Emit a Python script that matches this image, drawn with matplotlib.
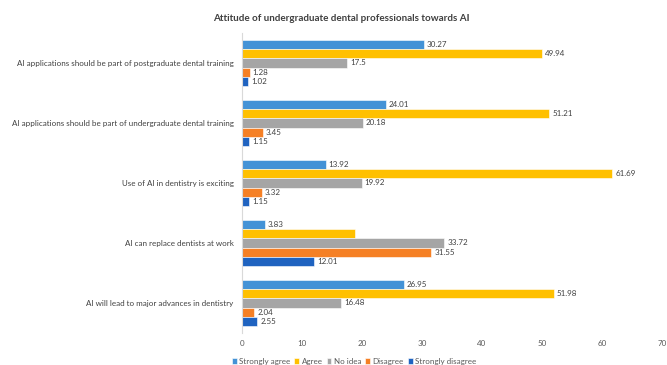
import matplotlib.pyplot as plt
import numpy as np

# encuesta: actitud de estudiantes de odontología frente a la IA (%)
afirmaciones = [
    "AI applications should be part of postgraduate dental training",
    "AI applications should be part of undergraduate dental training",
    "Use of AI in dentistry is exciting",
    "AI can replace dentists at work",
    "AI will lead to major advances in dentistry",
]
respuestas = ["Strongly agree", "Agree", "No idea", "Disagree", "Strongly disagree"]

muy_de_acuerdo = [30.27, 24.01, 13.92, 3.83, 26.95]
de_acuerdo = [49.94, 51.21, 61.69, 18.89, 51.98]
sin_idea = [17.5, 20.18, 19.92, 33.72, 16.48]
en_desacuerdo = [1.28, 3.45, 3.32, 31.55, 2.04]
muy_en_desacuerdo = [1.02, 1.15, 1.15, 12.01, 2.55]

# etiquetas que se muestran al lado de cada barra (None = sin etiqueta)
etiquetas = [
    ["30.27", "24.01", "13.92", "3.83", "26.95"],
    ["49.94", "51.21", "61.69", None, "51.98"],
    ["17.5", "20.18", "19.92", "33.72", "16.48"],
    ["1.28", "3.45", "3.32", "31.55", "2.04"],
    ["1.02", "1.15", "1.15", "12.01", "2.55"],
]

series = [muy_de_acuerdo, de_acuerdo, sin_idea, en_desacuerdo, muy_en_desacuerdo]
colores = ["#4392D6", "#FFC000", "#A5A5A5", "#F58025", "#1F63C0"]

plt.rcParams["font.family"] = ["Lato", "DejaVu Sans"]
tam = 5.8

fig = plt.figure(figsize=(6.67, 3.65), dpi=100)
ax = fig.add_axes([0.3628, 0.0877, 0.6297, 0.822])

y = np.arange(len(afirmaciones))
alto = 0.155
for j, (vals, color, nombre) in enumerate(zip(series, colores, respuestas)):
    pos = y + (j - 2) * alto
    ax.barh(pos, vals, height=alto, color=color, edgecolor="white",
            linewidth=0.4, label=nombre)
    for p, v, txt in zip(pos, vals, etiquetas[j]):
        if txt is not None:
            ax.text(v + 0.5, p, txt, va="center", ha="left",
                    fontsize=tam, color="#404040")

ax.set_ylim(len(afirmaciones) - 0.5, -0.5)
ax.set_xlim(0, 70)
ax.set_xticks(np.arange(0, 71, 10))
ax.set_yticks(y)
ax.set_yticklabels(afirmaciones, fontsize=tam, color="#404040")
ax.tick_params(axis="x", labelsize=tam, colors="#595959", length=0, pad=5)
ax.tick_params(axis="y", length=0, pad=6)

for lado in ["top", "right", "bottom"]:
    ax.spines[lado].set_visible(False)
ax.spines["left"].set_color("#D9D9D9")
ax.spines["left"].set_linewidth(0.8)

fig.text(341 / 667, 0.95, "Attitude of undergraduate dental professionals towards AI",
         ha="center", va="center", fontsize=7.1, fontweight="bold",
         color="#404040")

fig.legend(loc="center", bbox_to_anchor=(354 / 667, 0.01), ncol=5,
           frameon=False, fontsize=tam, handlelength=0.6, handleheight=0.6,
           handletextpad=0.3, columnspacing=0.5, labelcolor="#595959")

fig.savefig("out.png", dpi=100)
